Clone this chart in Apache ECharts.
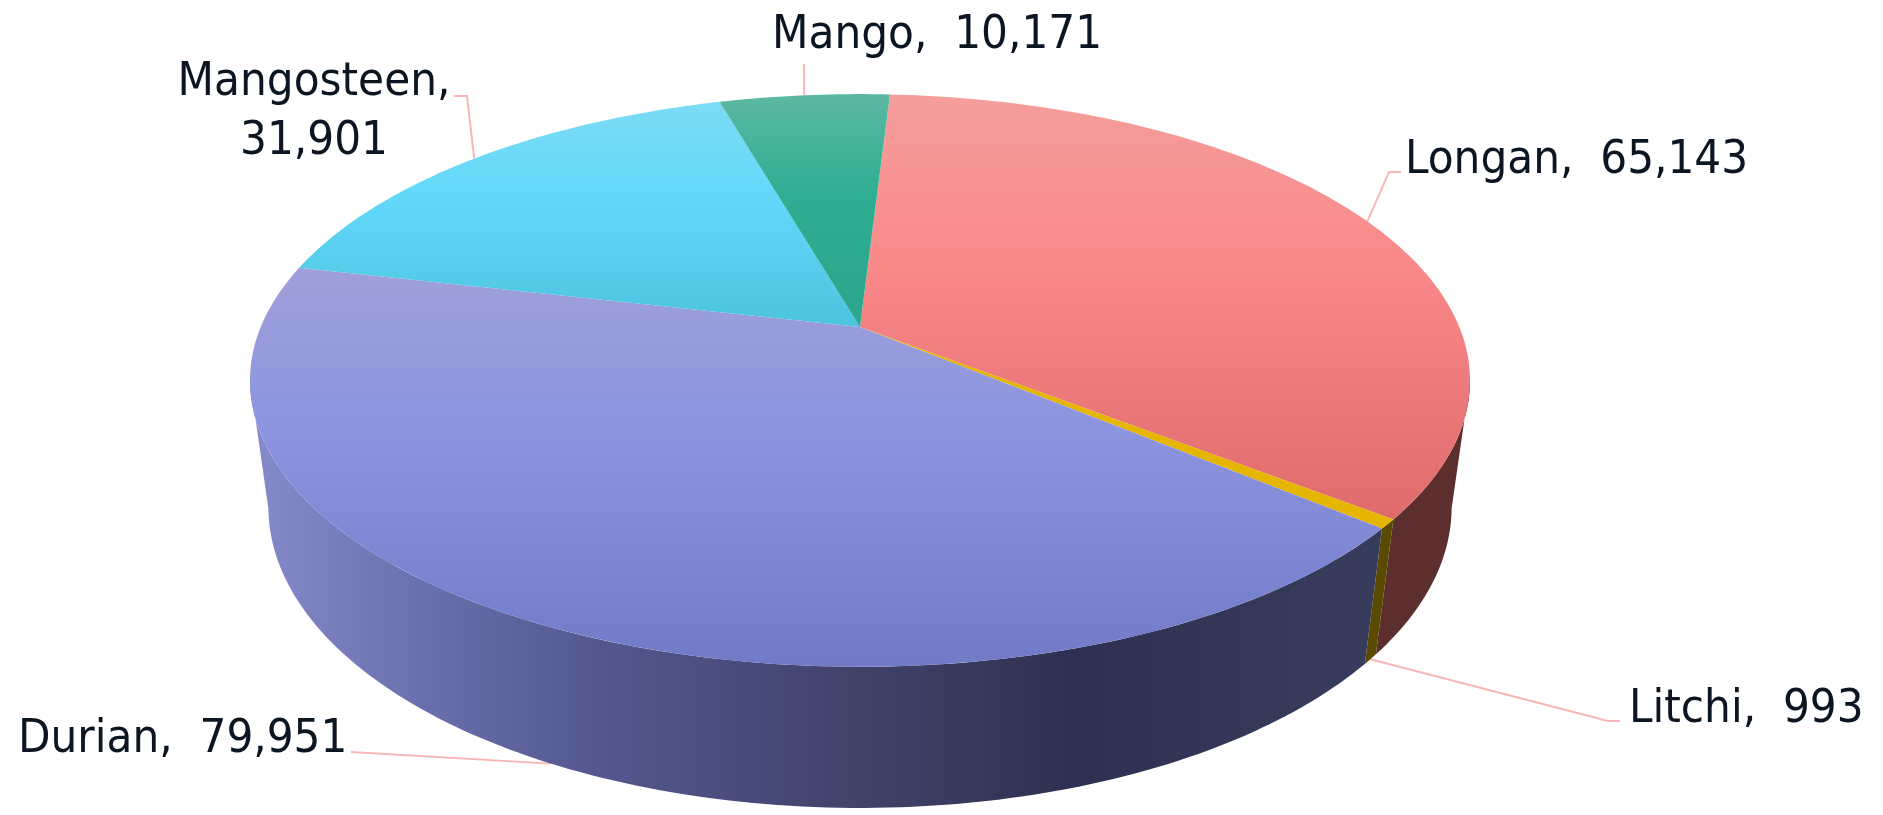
<!DOCTYPE html>
<html><head><meta charset="utf-8">
<style>html,body{margin:0;padding:0;background:#fff}#c{width:1883px;height:815px}</style>
<script src="https://cdn.jsdelivr.net/npm/echarts@6/dist/echarts.min.js"></script>
</head><body><div id="c"></div>
<script>
// ---- data ----
const categories = ['Longan', 'Litchi', 'Durian', 'Mangosteen', 'Mango'];
const values = [65143, 993, 79951, 31901, 10171];

// ---- colours (top-face gradient stops, wall colours) ----
const faceLight = ['#F49E9C', '#E6B500', '#9FA0DA', '#7CDBF5', '#5DB8A3'];
const faceBase  = ['#FA8888', '#E6B500', '#8C94DF', '#62D9FA', '#2FAE92'];
const faceDark  = ['#DF6B6B', '#E6B500', '#717AC6', '#4CC4DF', '#2AA78C'];
const wallStops = [
  [[0, '#5F3031'], [1, '#5C2E2E']],
  [[0, '#5E4D00'], [1, '#5A4A00']],
  [[0, '#868BCB'], [0.14, '#6A6FAE'], [0.29, '#53578E'], [0.5, '#404269'], [0.68, '#2E3051'], [0.9, '#373B5C'], [1, '#373B5C']],
  [[0, '#222'], [1, '#222']],
  [[0, '#222'], [1, '#222']]
];

// ---- layout of the perspective projection ----
const view = { cx: 860, horizonY: -1154, a: 599.3, k: -0.1866, startDeg: 3.4,
               wTop: 1, nTop: 1481, wBottom: 1.03, nBottom: 1654.7, visFrom: 100.7, visTo: 259.3 };
// label anchors: knee points of the leader, text position (baseline)
const labelLayout = [
  { leader: [[1389, 172], [1401, 172]], x: 1405, y: 173, align: 'left' },
  { leader: [[1608, 721], [1620, 721]], x: 1629, y: 722, align: 'left' },
  { leader: [[351, 752]], x: 18, y: 752, align: 'left' },
  { leader: [[467, 96], [454, 96]], x: 314, y: 154, align: 'center', lh: 59 },
  { leader: [[804, 64]], x: 772, y: 48, align: 'left' }
];
const textColor = '#0B1622';
const leaderColor = '#F9B6B6';
const fontFamily = '"DejaVu Sans Condensed", "DejaVu Sans", sans-serif';
const fontSize = 47;
const descent = 11;

function project(deg, w0, n) {
  const r = deg * Math.PI / 180, u = Math.sin(r), v = -Math.cos(r);
  const W = w0 + view.k * v;
  return [view.cx + view.a * u / W, view.horizonY + n / W];
}
const topPt = d => project(d, view.wTop, view.nTop);
const botPt = d => project(d, view.wBottom, view.nBottom);
const centerPt = () => [view.cx, view.horizonY + view.nTop];
function arc(fn, a, b) {
  const out = [], n = Math.max(1, Math.ceil(Math.abs(b - a)));
  for (let i = 0; i <= n; i++) out.push(fn(a + (b - a) * i / n));
  return out;
}
const fmt = v => String(v).replace(/\B(?=(\d{3})+$)/g, ',');
const total = values.reduce((s, v) => s + v, 0);

function renderItem(params, api) {
  const i = params.dataIndex, value = api.value(0);
  let before = 0;
  for (let j = 0; j < i; j++) before += values[j];
  const a0 = view.startDeg + before / total * 360;
  const a1 = a0 + value / total * 360;
  const mid = (a0 + a1) / 2;
  const children = [];
  const wa = Math.max(a0, view.visFrom), wb = Math.min(a1, view.visTo);
  if (wb > wa) {
    children.push({
      type: 'polygon', z2: 1, silent: true,
      shape: { points: arc(topPt, wa, wb).concat(arc(botPt, wb, wa)) },
      style: { fill: { type: 'linear', x: 250, y: 0, x2: 1470, y2: 0, global: true,
        colorStops: wallStops[i].map(s => ({ offset: s[0], color: s[1] })) }, stroke: null }
    });
  }
  const pts = [centerPt()].concat(arc(topPt, a0, a1));
  const ys = pts.map(p => p[1]);
  children.push({
    type: 'polygon', z2: 2, silent: true,
    shape: { points: pts },
    style: { fill: { type: 'linear', x: 0, y: Math.min(...ys), x2: 0, y2: Math.max(...ys), global: true,
      colorStops: [{ offset: 0, color: faceLight[i] }, { offset: 0.42, color: faceBase[i] }, { offset: 1, color: faceDark[i] }] } }
  });
  const lay = labelLayout[i];
  const front = Math.cos(mid * Math.PI / 180) < -0.1;
  const anchor = front ? botPt(mid) : topPt(mid);
  children.push({
    type: 'polyline', z2: 0, silent: true,
    shape: { points: [anchor].concat(lay.leader) },
    style: { stroke: leaderColor, lineWidth: 2, fill: null }
  });
  const name = categories[i];
  const txt = lay.lh ? name + ',\n' + fmt(value) : name + ',  ' + fmt(value);
  const lh = lay.lh || fontSize;
  children.push({
    type: 'text', z2: 3, silent: true, x: lay.x, y: lay.y + descent + (lh - fontSize) / 2,
    style: { text: txt, fill: textColor, font: fontSize + 'px ' + fontFamily, align: lay.align,
      verticalAlign: 'bottom', lineHeight: lh }
  });
  return { type: 'group', children };
}

const chart = echarts.init(document.getElementById('c'), null, { renderer: 'canvas' });
chart.setOption({
  backgroundColor: '#fff',
  animation: false,
  series: [{
    type: 'custom', coordinateSystem: 'none', renderItem,
    data: categories.map((name, i) => ({ name, value: [values[i]] }))
  }]
});
</script></body></html>
